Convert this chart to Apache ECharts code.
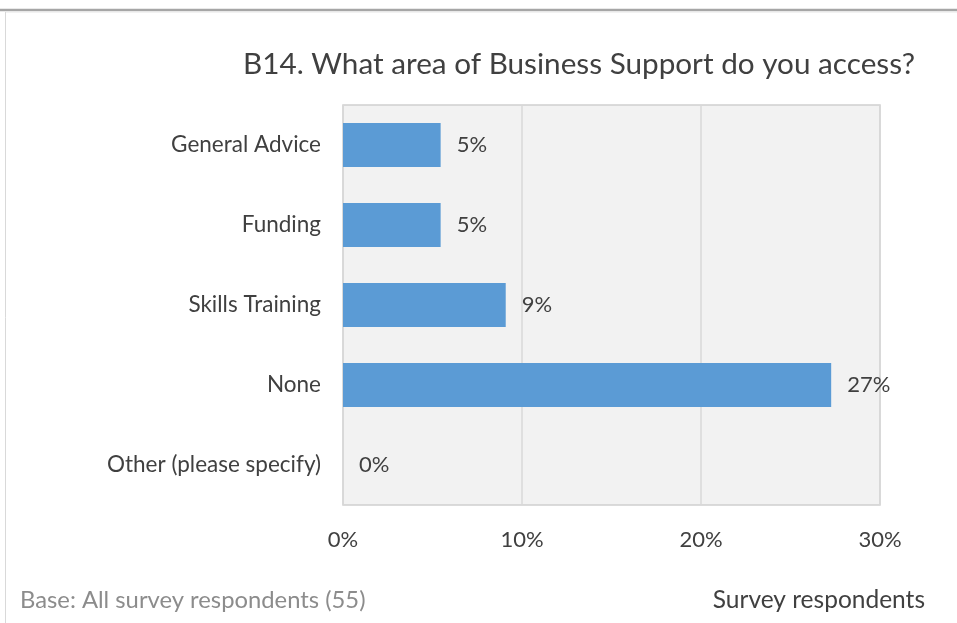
<!DOCTYPE html>
<html>
<head>
<meta charset="utf-8">
<script src="https://cdn.jsdelivr.net/npm/echarts@6/dist/echarts.min.js"></script>
<style>
  html, body { margin: 0; padding: 0; background: #ffffff; }
  #chart { width: 957px; height: 623px; }
</style>
</head>
<body>
<div id="chart"></div>
<script>
// Business support areas accessed (share of 55 respondents)
const categories = ['General Advice', 'Funding', 'Skills Training', 'None', 'Other (please specify)'];
const respondents = 55;
const counts = [3, 3, 5, 15, 0];
const shares = counts.map(c => c / respondents);
const xTicks = [0, 0.1, 0.2, 0.3];

const FONT = 'Lato, "Open Sans", sans-serif';
const chart = echarts.init(document.getElementById('chart'), null, { renderer: 'canvas' });

chart.setOption({
  backgroundColor: '#ffffff',
  animation: false,
  title: {
    text: 'B14. What area of Business Support do you access?',
    right: 37,
    top: 44,
    textStyle: { fontFamily: FONT, fontSize: 29.7, fontWeight: 'normal', color: '#404040' }
  },
  grid: {
    left: 343, right: 77, top: 105, bottom: 118,
    show: true, backgroundColor: '#f2f2f2', borderColor: '#d0d0d0', borderWidth: 1.5
  },
  xAxis: {
    type: 'value',
    min: xTicks[0],
    max: xTicks[xTicks.length - 1],
    interval: 0.1,
    axisLine: { show: false },
    axisTick: { show: false },
    splitLine: { lineStyle: { color: '#d9d9d9', width: 1.5 } },
    axisLabel: {
      margin: 24,
      fontFamily: FONT, fontSize: 22, color: '#404040',
      formatter: v => Math.round(v * 100) + '%'
    }
  },
  yAxis: {
    type: 'category',
    data: categories,
    inverse: true,
    axisLine: { show: false },
    axisTick: { show: false },
    splitLine: { show: false },
    axisLabel: { margin: 22, fontFamily: FONT, fontSize: 22.5, color: '#404040' }
  },
  series: [{
    type: 'bar',
    data: shares,
    barCategoryGap: '45%',
    itemStyle: { color: '#5b9bd5' },
    label: {
      show: true,
      position: 'right',
      distance: 16,
      fontFamily: FONT, fontSize: 22, color: '#404040',
      formatter: p => Math.round(p.value * 100) + '%'
    }
  }],
  graphic: [
    { type: 'line', shape: { x1: 0, y1: 10, x2: 957, y2: 10 }, style: { stroke: '#a6a6a6', lineWidth: 2.5 } },
    { type: 'line', shape: { x1: 5, y1: 12, x2: 957, y2: 12 }, style: { stroke: '#e6e6e6', lineWidth: 1 } },
    { type: 'line', shape: { x1: 5.5, y1: 12, x2: 5.5, y2: 623 }, style: { stroke: '#d9d9d9', lineWidth: 1 } },
    {
      type: 'text', left: 20, top: 588,
      style: { text: 'Base: All survey respondents (' + respondents + ')', fontFamily: FONT, fontSize: 23.8, fill: '#8c8c8c' }
    },
    {
      type: 'text', right: 32, top: 588,
      style: { text: 'Survey respondents', fontFamily: FONT, fontSize: 24.5, fill: '#404040' }
    }
  ]
});
</script>
</body>
</html>
